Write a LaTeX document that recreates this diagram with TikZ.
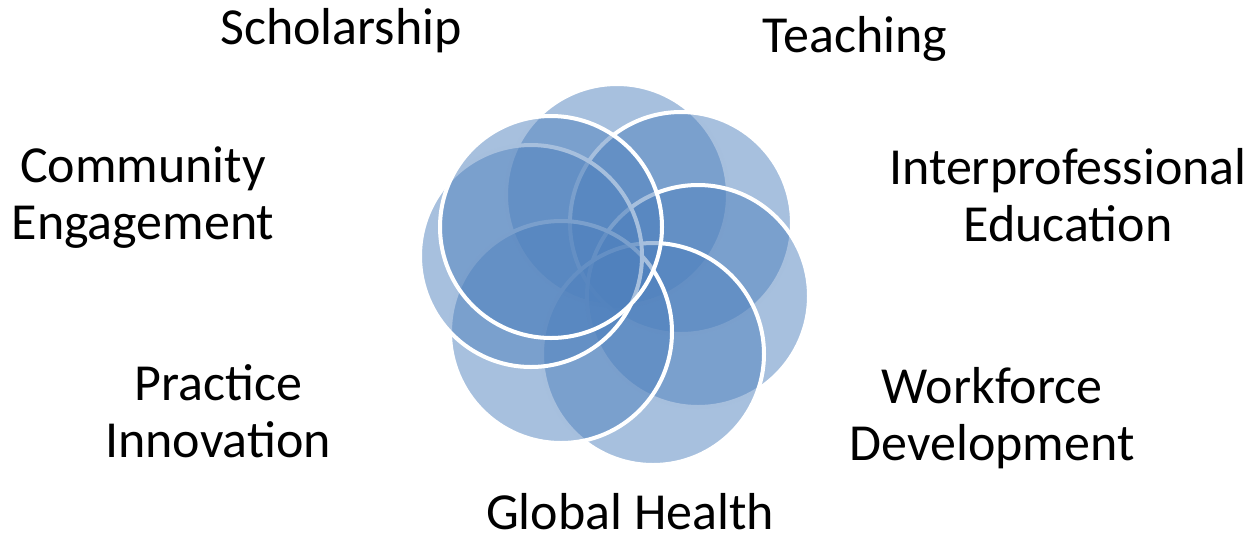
\documentclass[tikz,border=0pt]{standalone}
\usepackage{fontspec}
\setmainfont{Carlito}
\definecolor{ringblue}{HTML}{4F81BD}

\begin{document}
\begin{tikzpicture}[x=0.5pt, y=-0.5pt,
  ring/.style={circle, minimum size=111pt, inner sep=0pt, fill=ringblue, fill opacity=0.5, draw=white, line width=2pt},
  tag/.style={font=\fontsize{26}{28.5}\selectfont, align=center, anchor=base, inner sep=0pt}]
\useasboundingbox (0,0) rectangle (1258,542);

% rings, drawn from the first to the last
\node[ring] (r1) at (617,195) {};
\node[ring] (r2) at (681,223) {};
\node[ring] (r3) at (698,296) {};
\node[ring] (r4) at (653,354) {};
\node[ring] (r5) at (561,332) {};
\node[ring] (r6) at (531,256) {};
\node[ring] (r7) at (551,227) {};

% labels (base = baseline of the last line)
\node[tag] (scholar) at (341,44) {Scholarship};
\node[tag] (teach) at (855,52) {Teaching};
\node[tag] (commun) at (143,239) {Community\\Engagement};
\node[tag] (interpro) at (1068,241) {Interprofessional\\Education};
\node[tag] (practice) at (218,457) {Practice\\Innovation};
\node[tag] (workforce) at (992,460) {Workforce\\Development};
\node[tag] (global) at (630,529) {Global Health};

\end{tikzpicture}
\end{document}
